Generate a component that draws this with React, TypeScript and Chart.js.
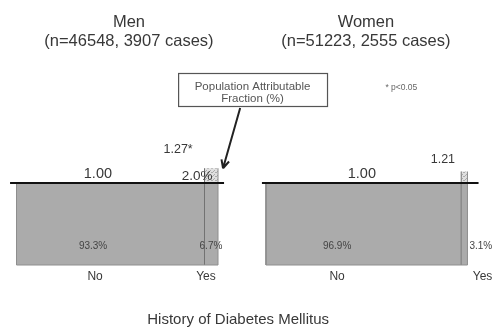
import React, { useEffect, useRef } from 'react';
import { Chart, registerables } from 'chart.js';

Chart.register(...registerables);

// ---- data ----
const panels = ['Men', 'Women'];
const panelCounts = ['(n=46548, 3907 cases)', '(n=51223, 2555 cases)'];
const categories = ['No', 'Yes'];
const prevalenceNo = [93.3, 96.9]; // % of the cohort without diabetes
const prevalenceYes = [6.7, 3.1]; // % of the cohort with diabetes
const rrNo = [1.0, 1.0]; // reference group
const rrYes = [1.27, 1.21]; // relative risk for history of diabetes
const rrSignificant = [true, false];
const pafPercent: (number | null)[] = [2.0, null];
const axisTitle = 'History of Diabetes Mellitus';
const pafNote = ['Population Attributable', 'Fraction (%)'];
const sigNote = '* p<0.05';

// ---- layout (scale units on x, values on y) ----
const PANEL_OFFSET = [0, 123.8];
const BAR_BASE = -0.5;
const X_MIN = -8.19;
const X_MAX = 236.97;
const Y_MIN = -1.707;
const Y_MAX = 4.347;
const BASELINE_EXT = [
  [-3.2, 103],
  [-2, 105.5],
];
const LABEL_X = [
  { title: 55.8, refRR: 40.4, yesRR: 80.2, yesDy: 19, paf: 89.6, inNo: 38, inYes: 96.5, yesInside: true, catNo: 39, catYes: 94 },
  { title: 49.6, refRR: 47.6, yesRR: 87.8, yesDy: 12, paf: 0, inNo: 35.3, inYes: 0, yesInside: false, catNo: 35.3, catYes: 107.5 },
];
const NOTE_BOX = { x0: 80.2, x1: 154.1, top: 73, bottom: 106 };
const ARROW_FROM_X = 111;
const ARROW_TO_X = 102.5;
const SIG_NOTE_X = 191;
const AXIS_TITLE_X = 110;

const FONT = '"Liberation Sans", Arial, Helvetica, sans-serif';
const GRAY = '#ababab';
const INK = '#383838';

function makeStipple(): CanvasPattern | string {
  const c = document.createElement('canvas');
  c.width = 4;
  c.height = 4;
  const g = c.getContext('2d');
  if (!g) return '#d8d8d8';
  g.fillStyle = '#e0e0e0';
  g.fillRect(0, 0, 4, 4);
  g.fillStyle = '#acacac';
  g.fillRect(0, 0, 1, 1);
  g.fillRect(2, 2, 1, 1);
  g.fillRect(3, 0, 1, 1);
  g.fillRect(1, 3, 1, 1);
  const p = g.createPattern(c, 'repeat');
  return p || '#d8d8d8';
}

function drawText(
  ctx: CanvasRenderingContext2D,
  s: string,
  px: number,
  py: number,
  size: number,
  color: string,
  align: CanvasTextAlign = 'center'
) {
  ctx.font = `${size}px ${FONT}`;
  ctx.fillStyle = color;
  ctx.textAlign = align;
  ctx.textBaseline = 'middle';
  ctx.fillText(s, px, py);
}

const labelPlugin = {
  id: 'mosaicLabels',
  afterDatasetsDraw(chart: any) {
    const ctx: CanvasRenderingContext2D = chart.ctx;
    const xs = chart.scales.x;
    const ys = chart.scales.y;
    const X = (v: number) => xs.getPixelForValue(v);
    const Y = (v: number) => ys.getPixelForValue(v);
    ctx.save();

    panels.forEach((name, p) => {
      const off = PANEL_OFFSET[p];
      const L = LABEL_X[p];
      const end = off + prevalenceNo[p] + prevalenceYes[p];
      // panel title
      drawText(ctx, name, X(off + L.title), 22, 16.5, INK);
      drawText(ctx, panelCounts[p], X(off + L.title), 41, 16.5, INK);
      // relative risks
      drawText(ctx, rrNo[p].toFixed(2), X(off + L.refRR), Y(rrNo[p]) - 9, 14.5, INK);
      drawText(
        ctx,
        rrYes[p].toFixed(2) + (rrSignificant[p] ? '*' : ''),
        X(off + L.yesRR),
        Y(rrYes[p]) - L.yesDy,
        12.5,
        INK
      );
      // attributable fraction
      const paf = pafPercent[p];
      if (paf !== null) {
        drawText(ctx, paf.toFixed(1) + '%', X(off + L.paf), Y(rrNo[p]) - 7, 13.5, INK);
      }
      // prevalence inside / beside the bars
      const inY = Y(BAR_BASE) - 19;
      drawText(ctx, prevalenceNo[p].toFixed(1) + '%', X(off + L.inNo), inY, 10, '#444');
      if (L.yesInside) {
        drawText(ctx, prevalenceYes[p].toFixed(1) + '%', X(off + L.inYes), inY, 10, '#444');
      } else {
        drawText(ctx, prevalenceYes[p].toFixed(1) + '%', X(end) + 2, inY, 10, '#444', 'left');
      }
      // category labels
      const catY = Y(BAR_BASE) + 11.5;
      drawText(ctx, categories[0], X(off + L.catNo), catY, 12, INK);
      drawText(ctx, categories[1], X(off + L.catYes), catY, 12, INK);
    });

    // note box with arrow to the excess risk of men
    const bx0 = X(NOTE_BOX.x0);
    const bx1 = X(NOTE_BOX.x1);
    ctx.fillStyle = '#ffffff';
    ctx.fillRect(bx0, NOTE_BOX.top, bx1 - bx0, NOTE_BOX.bottom - NOTE_BOX.top);
    ctx.strokeStyle = '#555';
    ctx.lineWidth = 1.2;
    ctx.strokeRect(bx0 + 0.5, NOTE_BOX.top + 0.5, bx1 - bx0, NOTE_BOX.bottom - NOTE_BOX.top);
    const cx = (bx0 + bx1) / 2;
    drawText(ctx, pafNote[0], cx, 87, 11.5, '#555');
    drawText(ctx, pafNote[1], cx, 98.5, 11.5, '#555');

    const ax0 = X(ARROW_FROM_X);
    const ay0 = NOTE_BOX.bottom + 2;
    const ax1 = X(ARROW_TO_X);
    const ay1 = Y(rrYes[0]);
    ctx.strokeStyle = '#222';
    ctx.lineWidth = 2;
    ctx.beginPath();
    ctx.moveTo(ax0, ay0);
    ctx.lineTo(ax1, ay1);
    const ang = Math.atan2(ay1 - ay0, ax1 - ax0);
    const head = 9;
    ctx.moveTo(ax1, ay1);
    ctx.lineTo(ax1 - head * Math.cos(ang - 0.45), ay1 - head * Math.sin(ang - 0.45));
    ctx.moveTo(ax1, ay1);
    ctx.lineTo(ax1 - head * Math.cos(ang + 0.45), ay1 - head * Math.sin(ang + 0.45));
    ctx.stroke();

    drawText(ctx, sigNote, X(SIG_NOTE_X), 88, 8.5, '#666');
    drawText(ctx, axisTitle, X(AXIS_TITLE_X), 320, 15, INK);

    ctx.restore();
  },
};

export default function App() {
  const ref = useRef<HTMLCanvasElement | null>(null);

  useEffect(() => {
    const canvas = ref.current;
    if (!canvas) return;
    const stipple = makeStipple();
    const datasets: any[] = [];

    panels.forEach((name, p) => {
      const off = PANEL_OFFSET[p];
      const split = off + prevalenceNo[p];
      const end = split + prevalenceYes[p];
      const common = { pointRadius: 0, tension: 0 };
      datasets.push({
        ...common,
        label: `${name} ${categories[0]}`,
        data: [
          { x: off, y: rrNo[p] },
          { x: split, y: rrNo[p] },
        ],
        fill: { value: BAR_BASE },
        backgroundColor: GRAY,
        borderWidth: 0,
        order: 3,
      });
      datasets.push({
        ...common,
        label: `${name} ${categories[1]} (reference part)`,
        data: [
          { x: split, y: rrNo[p] },
          { x: end, y: rrNo[p] },
        ],
        fill: { value: BAR_BASE },
        backgroundColor: GRAY,
        borderWidth: 0,
        order: 3,
      });
      datasets.push({
        ...common,
        label: `${name} ${categories[1]} (excess)`,
        data: [
          { x: split, y: rrYes[p] },
          { x: end, y: rrYes[p] },
        ],
        fill: { value: rrNo[p] },
        backgroundColor: stipple,
        borderWidth: 0,
        order: 3,
      });
      datasets.push({
        ...common,
        label: `${name} outline`,
        data: [
          { x: off, y: rrNo[p] },
          { x: off, y: BAR_BASE },
          { x: end, y: BAR_BASE },
          { x: end, y: rrYes[p] },
        ],
        fill: false,
        borderColor: '#8e8e8e',
        borderWidth: 1,
        order: 2,
      });
      datasets.push({
        ...common,
        label: `${name} divider`,
        data: [
          { x: split, y: BAR_BASE },
          { x: split, y: rrYes[p] },
        ],
        fill: false,
        borderColor: '#727272',
        borderWidth: 1,
        order: 2,
      });
      datasets.push({
        ...common,
        label: `${name} reference line`,
        data: [
          { x: off + BASELINE_EXT[p][0], y: rrNo[p] },
          { x: off + BASELINE_EXT[p][1], y: rrNo[p] },
        ],
        fill: false,
        borderColor: '#111',
        borderWidth: 2,
        order: 1,
      });
    });

    const chart = new Chart(canvas, {
      type: 'line',
      data: { datasets },
      options: {
        animation: false,
        responsive: false,
        devicePixelRatio: 1,
        layout: { padding: 0 },
        scales: {
          x: { type: 'linear', min: X_MIN, max: X_MAX, display: false },
          y: { type: 'linear', min: Y_MIN, max: Y_MAX, display: false },
        },
        plugins: {
          legend: { display: false },
          tooltip: { enabled: false },
          title: { display: false },
        },
      },
      plugins: [labelPlugin],
    } as any);

    return () => chart.destroy();
  }, []);

  return (
    <div style={{ position: 'absolute', left: 0, top: 0, width: 494, height: 331, background: '#fff' }}>
      <canvas ref={ref} width={494} height={331} />
    </div>
  );
}
